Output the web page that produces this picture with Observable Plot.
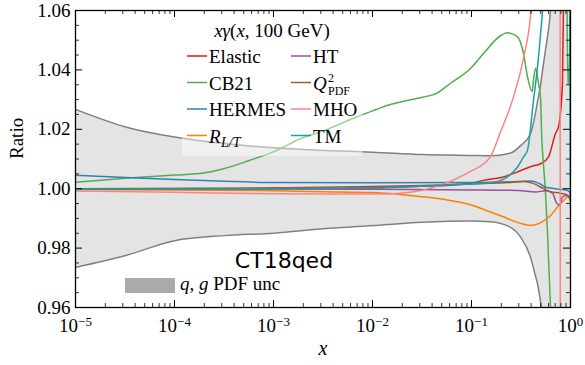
<!DOCTYPE html>
<html><head><meta charset="utf-8">
<script src="https://cdn.jsdelivr.net/npm/d3@7"></script>
<script src="https://cdn.jsdelivr.net/npm/@observablehq/plot@0.6"></script>
<style>body{margin:0;background:#fff}</style>
</head><body><div id="chart"></div>
<script>
// ---- axis ticks ----
const xMajor = [1e-5, 1e-4, 1e-3, 1e-2, 1e-1, 1];
const xExponents = ["−5", "−4", "−3", "−2", "−1", "0"];
const yMajor = [0.96, 0.98, 1.00, 1.02, 1.04, 1.06];
const yMinor = [0.965,0.97,0.975,0.985,0.99,0.995,1.005,1.01,1.015,1.025,1.03,1.035,1.045,1.05,1.055];

// ---- q,g PDF uncertainty band ----
const bandX  = [1e-5,3.2e-5,1e-4,3.2e-4,1e-3,3.2e-3,0.01,0.032,0.1,0.155,0.248,0.313,0.394,0.443,0.464,0.498,0.509,0.559,0.628,0.7,0.75,1];
const bandHi = [1.0267,1.0208,1.0174,1.0152,1.0138,1.0129,1.0123,1.0115,1.0112,1.0111,1.0120,1.0145,1.0185,1.0255,1.0293,1.0348,1.0372,1.0467,1.06,1.09,1.2,1.2];
const bandLo = [0.9735,0.9775,0.9825,0.9842,0.985,0.9865,0.9876,0.9887,0.9891,0.9889,0.987,0.9837,0.977,0.9706,0.968,0.962,0.96,0.94,0.9,0.85,0.8,0.8];

// ---- series ----
const elasticX = [1e-5,1e-3,3.2e-3,0.01,0.032,0.0614,0.1,0.132,0.2,0.29,0.4,0.5,0.6,0.705,0.756,0.83,0.85,0.9];
const elasticY = [1.0000,1.0000,1.0001,1.0003,1.0008,1.0012,1.0018,1.0028,1.0038,1.0056,1.0075,1.0084,1.0107,1.0186,1.0208,1.0355,1.065,1.2];

const cb21X = [1e-5,3.2e-5,1e-4,1.8e-4,3.2e-4,5.8e-4,1e-3,1.87e-3,3.2e-3,5.9e-3,0.01,0.0157,0.023,0.032,0.045,0.0614,0.0977,0.132,0.196,0.23,0.29,0.335,0.368,0.41,0.423,0.443,0.475,0.5,0.509,0.534,0.559,0.586,0.628,0.66,0.7,0.92,0.94,0.97,1];
const cb21Y = [1.0022,1.0035,1.0046,1.0051,1.0068,1.0096,1.0124,1.0168,1.0195,1.0232,1.0262,1.0285,1.0298,1.0308,1.0322,1.0355,1.0405,1.0455,1.0515,1.0525,1.0512,1.0456,1.0377,1.0327,1.0366,1.0405,1.0355,1.030,1.020,1.008,0.9987,0.985,0.96,0.94,null,1.07,1.035,1.04,1.06];

const hermesX = [1e-5,3.2e-5,1e-4,3.2e-4,1e-3,0.01,0.1,0.3,0.394,0.5,0.559,0.705,0.933,1];
const hermesY = [1.0045,1.0038,1.0031,1.0025,1.0021,1.0020,1.0021,1.0024,1.0026,1.0015,1.0005,1.0000,0.9994,0.9985];

const rltX = [1e-5,1e-4,1e-3,3.2e-3,0.01,0.02,0.032,0.057,0.1,0.145,0.2,0.3,0.394,0.5,0.63,0.739,0.85,0.93,1];
const rltY = [0.9997,0.9996,0.9993,0.9990,0.9987,0.9980,0.9973,0.9962,0.9945,0.9925,0.9908,0.9885,0.9876,0.9886,0.9910,0.9938,0.9960,0.9972,0.9980];

const htX = [1e-5,0.01,0.1,0.3,0.443,0.559,0.658,0.722,0.774,0.83,0.911,1];
const htY = [1.0000,0.9998,0.9996,0.9994,0.9989,0.9993,0.9985,0.9952,0.9944,0.9972,0.9977,0.9970];

const q2X = [1e-5,1e-3,0.01,0.032,0.1,0.25,0.335,0.42,0.5,0.628,0.79,0.93,1];
const q2Y = [1.0000,1.0003,1.0007,1.0011,1.0016,1.0021,1.0024,1.0018,1.0005,0.9990,0.9985,0.9978,0.9960];

const mhoX = [1e-5,1e-4,1e-3,3.2e-3,0.01,0.0192,0.032,0.0614,0.0977,0.155,0.196,0.266,0.335,0.394,0.42,0.5,0.78,0.795,1];
const mhoY = [0.9992,0.9988,0.9983,0.9982,0.9982,0.9985,0.9995,1.0025,1.0058,1.0107,1.0190,1.0310,1.0440,1.0580,1.07,1.12,1.2,0.8,0.8];

const tmX = [1e-5,1e-3,0.01,0.0486,0.155,0.231,0.292,0.335,0.368,0.423,0.464,0.498,0.53,0.56,0.6,0.97,0.985,1];
const tmY = [0.9998,1.0000,1.0002,1.0012,1.0020,1.0040,1.0073,1.0107,1.0130,1.0298,1.0410,1.0520,1.0650,1.10,1.3,1.3,1.05,0.9935];

const seriesNames  = ["Elastic","CB21","HERMES","R_L/T","HT","Q2_PDF","MHO","TM"];
const seriesColors = ["#e41a1c","#4daf4a","#377eb8","#ff7f00","#984ea3","#a65628","#f88585","#17a2a6"];
const seriesX = [elasticX, cb21X, hermesX, rltX, htX, q2X, mhoX, tmX];
const seriesY = [elasticY, cb21Y, hermesY, rltY, htY, q2Y, mhoY, tmY];

const band = bandX.map((x, i) => ({x, hi: bandHi[i], lo: bandLo[i]}));
const xMinor = xMajor.slice(0, -1).flatMap(d => [2,3,4,5,6,7,8,9].map(k => d * k));

const W = 585, H = 365, mL = 75, mR = 15, mT = 10, mB = 58;
const fw = W - mL - mR, fh = H - mT - mB;
const curve = "monotone-x";
const serif = "'Liberation Serif', serif";

const marks = [
  Plot.areaY(band, {x: "x", y1: "lo", y2: "hi", fill: "#e4e4e4", curve, clip: true}),
  Plot.line(band, {x: "x", y: "hi", stroke: "#808080", strokeWidth: 1.5, curve, clip: true}),
  Plot.line(band, {x: "x", y: "lo", stroke: "#808080", strokeWidth: 1.5, curve, clip: true}),
  ...seriesNames.map((name, k) => Plot.line(
    seriesX[k].map((x, i) => ({x, y: seriesY[k][i]})),
    {x: "x", y: "y", stroke: seriesColors[k], strokeWidth: 1.5, curve, clip: true})),
  // inward ticks on all four sides
  Plot.tickX(xMajor, {x: d => d, insetTop: fh - 7, stroke: "black", strokeWidth: 1}),
  Plot.tickX(xMajor, {x: d => d, insetBottom: fh - 7, stroke: "black", strokeWidth: 1}),
  Plot.tickX(xMinor, {x: d => d, insetTop: fh - 4, stroke: "black", strokeWidth: 0.8}),
  Plot.tickX(xMinor, {x: d => d, insetBottom: fh - 4, stroke: "black", strokeWidth: 0.8}),
  Plot.tickY(yMajor, {y: d => d, insetRight: fw - 7, stroke: "black", strokeWidth: 1}),
  Plot.tickY(yMajor, {y: d => d, insetLeft: fw - 7, stroke: "black", strokeWidth: 1}),
  Plot.tickY(yMinor, {y: d => d, insetRight: fw - 4, stroke: "black", strokeWidth: 0.8}),
  Plot.tickY(yMinor, {y: d => d, insetLeft: fw - 4, stroke: "black", strokeWidth: 0.8}),
  Plot.axisX({ticks: xMajor, tickSize: 0, tickPadding: 11, label: null, fontFamily: serif, fontSize: 19,
              tickFormat: d => "10^" + xExponents[xMajor.indexOf(d)]}),
  Plot.axisY({ticks: yMajor, tickSize: 0, tickPadding: 5, label: null, fontFamily: serif, fontSize: 19,
              tickFormat: d3.format(".2f")}),
  Plot.text(["Ratio"], {frameAnchor: "left", dx: -59, rotate: -90, fontSize: 19, fontFamily: serif}),
  Plot.text(["x"], {frameAnchor: "bottom", dy: 47, fontSize: 20, fontStyle: "italic", fontFamily: serif}),
  Plot.frame({stroke: "black", strokeWidth: 1.3})
];

const svgEl = Plot.plot({
  width: W, height: H, marginLeft: mL, marginRight: mR, marginTop: mT, marginBottom: mB,
  x: {type: "log", domain: [1e-5, 1]},
  y: {domain: [0.96, 1.06]},
  style: {fontFamily: serif, fontSize: "19px", color: "black", background: "white"},
  marks
});
document.getElementById("chart").appendChild(svgEl);
const svg = d3.select(svgEl);

// superscript exponents on x tick labels
svg.selectAll("text").each(function() {
  const t = this.textContent;
  if (t.startsWith("10^")) {
    const exp = t.slice(3);
    const s = d3.select(this);
    s.text(null);
    s.append("tspan").text("10");
    s.append("tspan").attr("dy", "-0.5em").attr("font-size", "13px").text(exp);
  }
});

// legend frame (semi-transparent)
const lg = svg.append("g").attr("font-family", serif).attr("text-anchor", "start");
lg.append("rect").attr("x", 182).attr("y", 18).attr("width", 181).attr("height", 138)
  .attr("fill", "white").attr("fill-opacity", 0.45);

function txt(x, y, size, style, s) {
  return lg.append("text").attr("x", x).attr("y", y).attr("font-size", size)
    .attr("font-style", style || "normal").attr("text-anchor", "start").text(s);
}
// title
const title = lg.append("text").attr("x", 272).attr("y", 37).attr("font-size", 19).attr("text-anchor", "middle");
title.append("tspan").attr("font-style", "italic").text("xγ");
title.append("tspan").text("(");
title.append("tspan").attr("font-style", "italic").text("x");
title.append("tspan").text(", 100 GeV)");

const rowsY = [63, 89.5, 116, 142.5];
const cols = [[187, 209], [291, 313]];
seriesNames.forEach((name, k) => {
  const c = cols[Math.floor(k / 4)], yb = rowsY[k % 4];
  lg.append("line").attr("x1", c[0]).attr("x2", c[0] + 20).attr("y1", yb - 7).attr("y2", yb - 7)
    .attr("stroke", seriesColors[k]).attr("stroke-width", 1.5);
  if (name === "R_L/T") {
    txt(c[1], yb, 19, "italic", "R");
    txt(c[1] + 12, yb + 4, 14, "italic", "L/T");
  } else if (name === "Q2_PDF") {
    txt(c[1], yb, 19, "italic", "Q");
    txt(c[1] + 15, yb - 8, 12, "normal", "2");
    txt(c[1] + 15, yb + 5, 12, "normal", "PDF");
  } else {
    txt(c[1], yb, 19, "normal", name);
  }
});

// band legend + label
svg.append("rect").attr("x", 125).attr("y", 278).attr("width", 50).attr("height", 15).attr("fill", "#aaaaaa");
const ql = svg.append("text").attr("x", 180).attr("y", 290).attr("font-size", 19)
  .attr("text-anchor", "start").attr("font-family", serif);
ql.append("tspan").attr("font-style", "italic").text("q");
ql.append("tspan").text(", ");
ql.append("tspan").attr("font-style", "italic").text("g");
ql.append("tspan").text(" PDF unc");
svg.append("text").attr("x", 284).attr("y", 268).attr("font-size", 22).attr("text-anchor", "middle")
  .attr("font-family", "'DejaVu Sans', sans-serif").text("CT18qed");
</script>
</body></html>
